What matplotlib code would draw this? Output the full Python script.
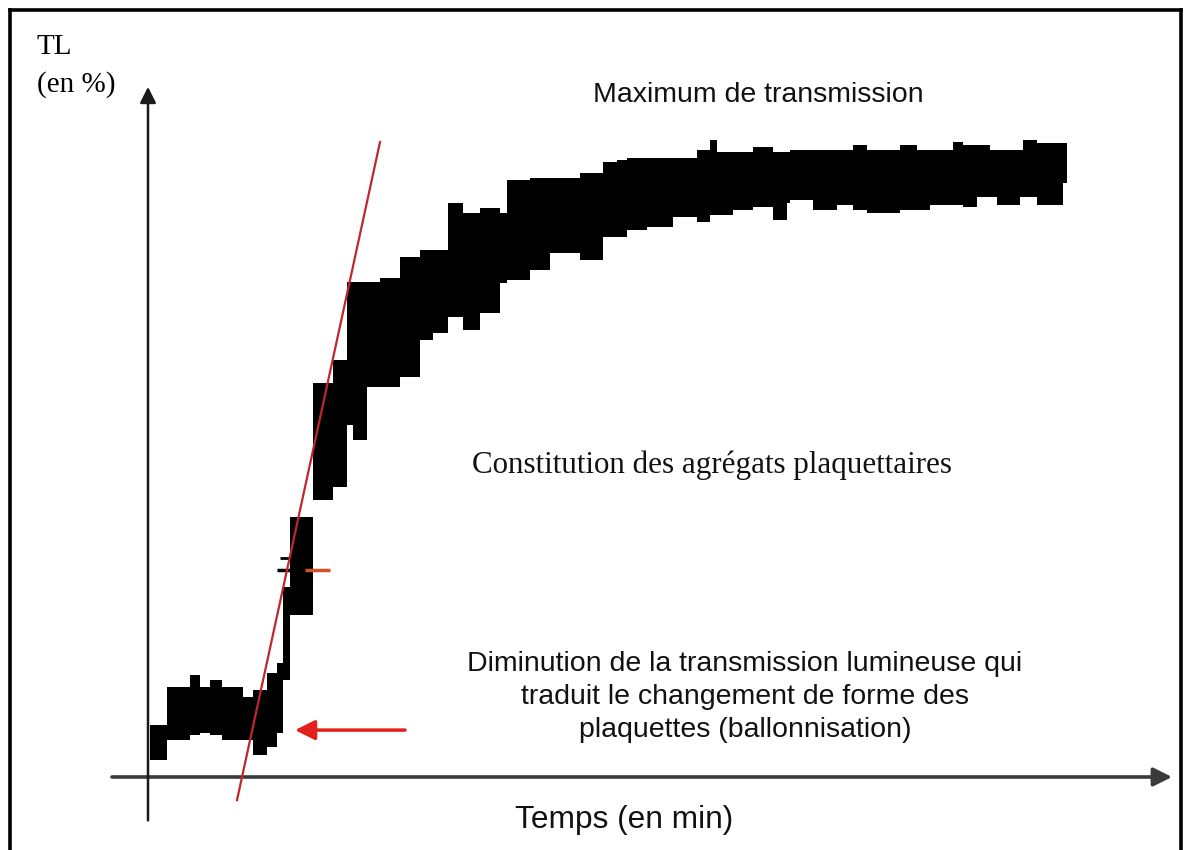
import matplotlib
matplotlib.use('Agg')
import matplotlib.pyplot as plt
from matplotlib.lines import Line2D

# time (min) where each step of the recorded trace begins; last value = end of trace
time_steps = [0.02, 0.19, 0.42, 0.52, 0.62, 0.74, 0.95, 1.05, 1.19, 1.29,
              1.35, 1.42, 1.65, 1.85, 1.99, 2.05, 2.19, 2.32, 2.52, 2.72,
              2.85, 3.00, 3.15, 3.32, 3.52, 3.59, 3.82, 4.02, 4.32, 4.55,
              4.69, 4.79, 4.99, 5.25, 5.49, 5.62, 5.69, 5.85, 6.05, 6.25,
              6.39, 6.42, 6.65, 6.89, 7.05, 7.19, 7.52, 7.69, 7.82, 8.05,
              8.15, 8.29, 8.42, 8.49, 8.72, 8.75, 8.89, 9.15, 9.19]

# upper / lower edge of the noisy trace (TL in %)
tl_upper = [7.4, 12.9, 14.6, 12.9, 13.9, 12.9, 11.4, 12.4, 14.9, 16.3,
            27.1, 37.1, 56.3, 59.6, 70.7, 70.7, 70.7, 71.3, 74.3, 75.3,
            75.3, 82.0, 80.6, 81.3, 80.6, 85.3, 85.6, 85.6, 86.3, 87.9,
            88.1, 88.4, 88.4, 88.4, 89.6, 91.0, 89.3, 89.3, 90.0, 89.3,
            89.3, 89.6, 89.6, 89.6, 90.3, 89.6, 90.3, 89.6, 89.6, 90.7,
            90.3, 90.3, 89.6, 89.6, 89.6, 91.0, 90.6, 90.6]
tl_lower = [2.4, 5.3, 6.0, 6.3, 6.0, 5.3, 5.3, 3.1, 4.3, 6.3,
            13.9, 23.1, 39.6, 41.4, 50.3, 48.1, 55.7, 55.7, 57.1, 62.4,
            63.4, 65.7, 63.9, 66.3, 70.6, 71.0, 72.4, 74.9, 73.9, 77.1,
            77.1, 78.1, 78.6, 80.0, 79.3, 80.3, 80.3, 81.0, 81.4, 79.6,
            82.0, 82.4, 81.0, 81.7, 81.0, 80.6, 81.0, 81.0, 81.7, 81.7,
            81.4, 82.9, 82.9, 81.7, 82.9, 82.9, 81.7, 84.9]

# tangent to the aggregation slope
tangent_t = [0.89, 2.32]
tangent_tl = [-3.3, 90.7]

# arrow pointing at the shape change dip
dip_arrow_from = (2.57, 6.7)
dip_arrow_to = (1.47, 6.7)

sans = ['Liberation Sans', 'DejaVu Sans']
serif = ['Liberation Serif', 'DejaVu Serif']

fig = plt.figure(figsize=(11.84, 8.5), dpi=100)
ax = fig.add_axes([0, 0, 1, 1])
ax.set_xlim(-1.48, 10.36)
ax.set_ylim(-10.43, 111.0)
ax.axis('off')

# axes with arrow heads
ax.annotate('', xy=(10.24, 0), xytext=(-0.36, 0),
            arrowprops=dict(arrowstyle='-|>', color='#3a3a3a', lw=2.6,
                            mutation_scale=28, shrinkA=0, shrinkB=0))
ax.annotate('', xy=(0, 98.6), xytext=(0, -6.2),
            arrowprops=dict(arrowstyle='-|>', color='#1a1a1a', lw=1.8,
                            mutation_scale=24, shrinkA=0, shrinkB=0))

# the trace
upper = tl_upper + [tl_upper[-1]]
lower = tl_lower + [tl_lower[-1]]
ax.fill_between(time_steps, lower, upper, step='post', color='black',
                lw=0, zorder=3)
ax.hlines(29.6, 1.29, 1.57, color='black', lw=2.5, zorder=3)
ax.hlines(29.6, 1.57, 1.82, color='#d2502a', lw=2.5, zorder=3)
ax.hlines(31.3, 1.32, 1.42, color='black', lw=2, zorder=3)

ax.plot(tangent_t, tangent_tl, color='#c0272d', lw=1.6, zorder=4)

ax.annotate('', xy=dip_arrow_to, xytext=dip_arrow_from,
            arrowprops=dict(arrowstyle='-|>', color='#e3211c', lw=2.5,
                            mutation_scale=30, shrinkA=0, shrinkB=0))

# labels
ax.text(-1.11, 106.1, 'TL\n(en %)', ha='left', va='top', fontsize=21,
        family=serif, linespacing=1.5)
ax.text(6.10, 97.4, 'Maximum de transmission', ha='center', va='center',
        fontsize=20.5, family=sans, color='#111111')
ax.text(5.64, 44.6, 'Constitution des agrégats plaquettaires', ha='center',
        va='center', fontsize=22.3, family=serif, color='#111111')
ax.text(5.97, 11.4, 'Diminution de la transmission lumineuse qui\n'
        'traduit le changement de forme des\nplaquettes (ballonnisation)',
        ha='center', va='center', multialignment='center', fontsize=20.5,
        family=sans, linespacing=1.36, color='#111111')
ax.text(4.76, -6.2, 'Temps (en min)', ha='center', va='center',
        fontsize=22.8, family=sans, color='#111111')

# frame around the picture (open at the bottom)
fx0, fx1, fy1 = 9.5 / 1184, 1180.5 / 1184, 1 - 9.5 / 850
for xs, ys in [([fx0, fx0], [0, fy1]), ([fx0, fx1], [fy1, fy1]),
               ([fx1, fx1], [fy1, 0])]:
    fig.add_artist(Line2D(xs, ys, color='black', lw=2.6,
                          transform=fig.transFigure))

fig.savefig('out.png', dpi=100)
